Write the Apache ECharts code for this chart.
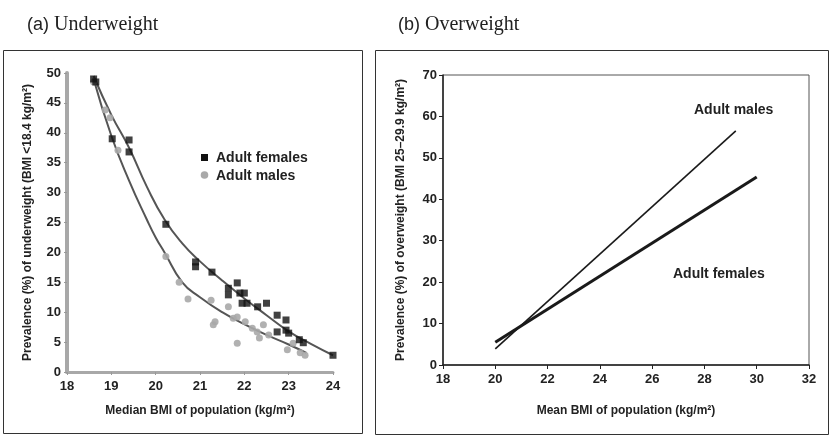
<!DOCTYPE html>
<html><head><meta charset="utf-8">
<script src="https://cdn.jsdelivr.net/npm/echarts@6/dist/echarts.min.js"></script>
<style>html,body{margin:0;padding:0;background:#fff}#c{width:831px;height:439px}</style>
</head><body><div id="c"></div>
<script>
// Panel (a) data: Underweight
const femalesPts = [[18.6,49],[18.65,48.5],[19.02,39],[19.4,38.8],[19.4,36.8],[20.23,24.7],[20.9,18.4],[20.9,17.6],[21.27,16.7],
  [21.84,14.9],[21.64,14.0],[21.64,12.9],[21.9,13.2],[22.0,13.2],[21.95,11.5],[22.06,11.5],[22.3,10.9],[22.5,11.5],
  [22.74,9.5],[22.94,8.7],[22.74,6.7],[22.94,7.0],[23.0,6.5],[23.24,5.4],[23.33,4.9],[24.0,2.8]];
const malesPts = [[18.6,48.5],[18.86,43.8],[18.97,42.5],[19.15,37.1],[20.23,19.3],[20.53,15.0],[20.73,12.2],[21.25,12.0],
  [21.34,8.4],[21.3,7.9],[21.64,10.9],[21.75,9.0],[21.84,9.2],[21.84,4.8],[22.02,8.4],[22.18,7.3],[22.29,6.7],[22.43,7.9],
  [22.34,5.7],[22.55,6.2],[22.97,3.7],[23.26,3.2],[23.37,2.8],[23.1,4.8]];
const femalesCurve = [[18.6,49.5],[19.0,43],[19.4,37.5],[19.8,31],[20.2,25.5],[20.6,21.5],[21.0,18.5],[21.5,15.3],[22.0,12.3],[22.5,9.5],[23.0,6.8],[23.5,4.7],[24.0,2.8]];
const malesCurve = [[18.6,49],[19.0,39.5],[19.4,32],[19.8,25.5],[20.0,22.5],[20.2,20],[20.6,15],[21.0,12.5],[21.5,10],[22.0,8.0],[22.5,6.2],[23.0,4.6],[23.4,3.2]];
// Panel (b) data: Overweight
const malesLine = [[20,3.9],[29.2,56.5]];
const femalesLine = [[20,5.5],[30,45.4]];
const xTicksA = [18,24,1];
const yTicksA = [0,50,5];
const xTicksB = [18,32,2];
const yTicksB = [0,70,10];

const chart = echarts.init(document.getElementById('c'));
const F = 'Liberation Sans, Arial, sans-serif';
const SERIF = 'Liberation Serif, Times New Roman, serif';
const lab = {color:'#222', fontFamily:F, fontWeight:'bold', fontSize:13};
const nameSt = {color:'#222', fontFamily:F, fontWeight:'bold', fontSize:12};
chart.setOption({
  animation:false,
  backgroundColor:'#fff',
  grid:[
    {left:67, top:73, width:266, height:299},
    {left:443, top:75, width:366, height:290, show:true, borderColor:'#555', borderWidth:1}
  ],
  xAxis:[
    {gridIndex:0, type:'value', min:xTicksA[0], max:xTicksA[1], interval:xTicksA[2],
     axisLine:{lineStyle:{color:'#a8a8a8', width:3}}, axisTick:{lineStyle:{color:'#999'}, length:3},
     axisLabel:Object.assign({margin:8}, lab), splitLine:{show:false},
     name:'Median BMI of population (kg/m²)', nameLocation:'middle', nameGap:33, nameTextStyle:nameSt},
    {gridIndex:1, type:'value', min:xTicksB[0], max:xTicksB[1], interval:xTicksB[2],
     axisLine:{lineStyle:{color:'#222', width:1.5}}, axisTick:{lineStyle:{color:'#222'}, length:4},
     axisLabel:Object.assign({margin:8}, lab), splitLine:{show:false},
     name:'Mean BMI of population (kg/m²)', nameLocation:'middle', nameGap:40, nameTextStyle:nameSt}
  ],
  yAxis:[
    {gridIndex:0, type:'value', min:yTicksA[0], max:yTicksA[1], interval:yTicksA[2],
     axisLine:{show:true, lineStyle:{color:'#a8a8a8', width:4}}, axisTick:{show:true, lineStyle:{color:'#999'}, length:3},
     axisLabel:Object.assign({margin:6}, lab), splitLine:{show:false},
     name:'Prevalence (%) of underweight (BMI <18.4 kg/m²)', nameLocation:'middle', nameGap:33, nameTextStyle:nameSt},
    {gridIndex:1, type:'value', min:yTicksB[0], max:yTicksB[1], interval:yTicksB[2],
     axisLine:{show:true, lineStyle:{color:'#222', width:1.5}}, axisTick:{show:true, lineStyle:{color:'#222'}, length:4},
     axisLabel:Object.assign({margin:6}, lab), splitLine:{show:false},
     name:'Prevalence (%) of overweight (BMI 25–29.9 kg/m²)', nameLocation:'middle', nameGap:36, nameTextStyle:nameSt}
  ],
  series:[
    {type:'line', xAxisIndex:0, yAxisIndex:0, data:femalesCurve, smooth:true, symbol:'none', lineStyle:{color:'#555', width:2}, z:2},
    {type:'line', xAxisIndex:0, yAxisIndex:0, data:malesCurve, smooth:true, symbol:'none', lineStyle:{color:'#555', width:2}, z:2},
    {type:'scatter', xAxisIndex:0, yAxisIndex:0, data:malesPts, symbol:'circle', symbolSize:7, itemStyle:{color:'#a9a9a9', opacity:0.9}, z:3},
    {type:'scatter', xAxisIndex:0, yAxisIndex:0, data:femalesPts, symbol:'rect', symbolSize:7, itemStyle:{color:'#111'}, z:4},
    {type:'line', xAxisIndex:1, yAxisIndex:1, data:malesLine, symbol:'none', lineStyle:{color:'#1a1a1a', width:1.6}},
    {type:'line', xAxisIndex:1, yAxisIndex:1, data:femalesLine, symbol:'none', lineStyle:{color:'#1a1a1a', width:3}}
  ],
  graphic:[
    {type:'rect', shape:{x:3.5, y:50.5, width:359, height:383}, style:{fill:null, stroke:'#333', lineWidth:1}},
    {type:'rect', shape:{x:375.5, y:50.5, width:453, height:384}, style:{fill:null, stroke:'#333', lineWidth:1}},
    {type:'text', left:27, top:15, style:{text:'{a|(a) }{b|Underweight}', rich:{a:{fontFamily:F, fontSize:18, fill:'#222'}, b:{fontFamily:SERIF, fontSize:20, fill:'#222'}}}},
    {type:'text', left:398, top:15, style:{text:'{a|(b) }{b|Overweight}', rich:{a:{fontFamily:F, fontSize:18, fill:'#222'}, b:{fontFamily:SERIF, fontSize:20, fill:'#222'}}}},
    {type:'rect', shape:{x:201, y:154, width:7, height:7}, style:{fill:'#111'}},
    {type:'circle', shape:{cx:204.5, cy:175, r:3.8}, style:{fill:'#a9a9a9'}},
    {type:'text', x:216, y:158, style:{text:'Adult females', fontFamily:F, fontWeight:'bold', fontSize:14, fill:'#222', verticalAlign:'middle'}},
    {type:'text', x:216, y:176, style:{text:'Adult males', fontFamily:F, fontWeight:'bold', fontSize:14, fill:'#222', verticalAlign:'middle'}},
    {type:'text', x:694, y:110, style:{text:'Adult males', fontFamily:F, fontWeight:'bold', fontSize:14, fill:'#222', verticalAlign:'middle'}},
    {type:'text', x:673, y:274, style:{text:'Adult females', fontFamily:F, fontWeight:'bold', fontSize:14, fill:'#222', verticalAlign:'middle'}}
  ]
});
</script></body></html>
